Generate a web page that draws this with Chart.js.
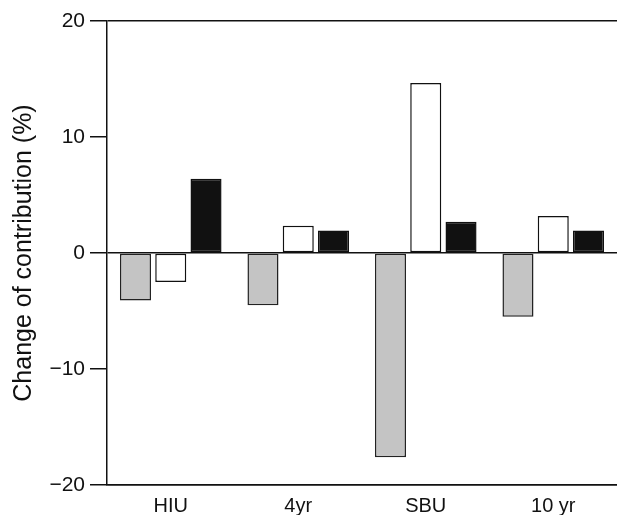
<!DOCTYPE html>
<html>
<head>
<meta charset="utf-8">
<script src="https://cdn.jsdelivr.net/npm/chart.js@4.4.1/dist/chart.umd.min.js"></script>
<style>
  html, body { margin: 0; padding: 0; background: #fff; }
  #wrap { position: relative; width: 617px; height: 515px; }
</style>
</head>
<body>
<div id="wrap"><canvas id="chart"></canvas></div>
<script>
const categories = ["HIU", "4yr", "SBU", "10 yr"];
const greyValues = [-4.1, -4.5, -17.6, -5.5];
const whiteValues = [-2.5, 2.35, 14.65, 3.2];
const blackValues = [6.4, 1.95, 2.7, 1.95];
const yTicks = [-20, -10, 0, 10, 20];

// ticks whose grid line runs the full width of the plot
const fullLines = [-20, 0, 20];

const ctx = document.getElementById("chart").getContext("2d");

new Chart(ctx, {
  type: "bar",
  data: {
    labels: categories,
    datasets: [
      {
        data: greyValues,
        backgroundColor: "#c4c4c4",
        borderColor: "#222",
        borderWidth: 1.5,
        borderSkipped: false,
      },
      {
        data: whiteValues,
        backgroundColor: "#ffffff",
        borderColor: "#111",
        borderWidth: 1.5,
        borderSkipped: false,
      },
      {
        data: blackValues,
        backgroundColor: "#111111",
        borderColor: "#111",
        borderWidth: 1.5,
        borderSkipped: false,
      },
    ],
  },
  options: {
    responsive: true,
    maintainAspectRatio: false,
    animation: false,
    layout: { padding: { top: 21, right: 0, left: 0, bottom: 0 } },
    datasets: { bar: { categoryPercentage: 0.83, barPercentage: 0.88 } },
    plugins: {
      legend: { display: false },
      tooltip: { enabled: false },
    },
    scales: {
      x: {
        grid: { display: false, drawTicks: false },
        border: { display: true, color: "#111", width: 1.5 },
        ticks: {
          color: "#111",
          padding: 9,
          font: { family: "Liberation Sans", size: 20 },
        },
        afterFit: (scale) => { scale.height = 30; },
      },
      y: {
        min: -20,
        max: 20,
        afterBuildTicks: (scale) => {
          scale.ticks = yTicks.map((v) => ({ value: v }));
        },
        grid: {
          color: (c) => (fullLines.includes(c.tick && c.tick.value) ? "#111" : "rgba(0,0,0,0)"),
          tickColor: "#111",
          tickLength: 17,
          lineWidth: 1.5,
        },
        border: { display: true, color: "#111", width: 1.5 },
        ticks: {
          color: "#111",
          padding: 5,
          font: { family: "Liberation Sans", size: 21 },
          callback: (v) => (v < 0 ? "\u2212" + Math.abs(v) : String(v)),
        },
        title: {
          display: true,
          text: "Change of contribution (%)",
          color: "#111",
          font: { family: "Liberation Sans", size: 25 },
          padding: { top: 9, bottom: 0 },
        },
        afterFit: (scale) => { scale.width = 107; },
      },
    },
  },
});
</script>
</body>
</html>
